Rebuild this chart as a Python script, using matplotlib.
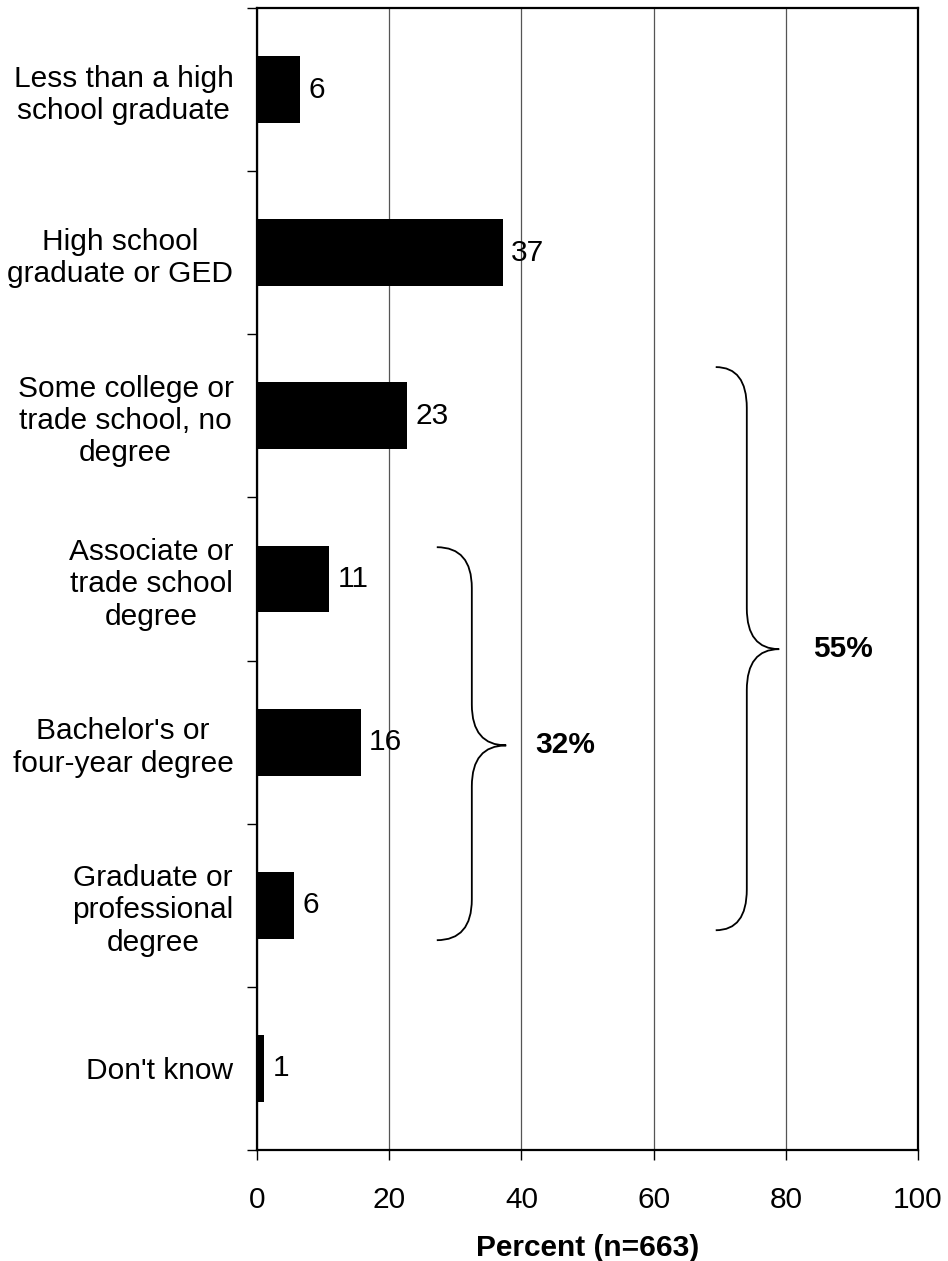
import matplotlib
matplotlib.use("Agg")
import matplotlib.pyplot as plt
from matplotlib.path import Path
from matplotlib.patches import PathPatch
import numpy as np

plt.rcParams['font.family'] = ['Liberation Sans', 'DejaVu Sans']

categories = [
    "Less than a high\nschool graduate",
    "High school\ngraduate or GED",
    "Some college or\ntrade school, no\ndegree",
    "Associate or\ntrade school\ndegree",
    "Bachelor's or\nfour-year degree",
    "Graduate or\nprofessional\ndegree",
    "Don't know",
]
values = [6.5, 37.2, 22.7, 10.9, 15.7, 5.6, 1.1]
value_labels = ["6", "37", "23", "11", "16", "6", "1"]

# brace groups: label, tip x, spine x, point x, top row, bottom row, middle row, label x
groups = [
    ("32%", 27.2, 32.5, 37.7, 2.805, 5.214, 4.02, 46.6),
    ("55%", 69.4, 74.1, 79.0, 1.701, 5.153, 3.43, 88.7),
]

FS = 21.5


def brace(ax, x0, xv, xm, ytop, ybot, ymid, r=0.25):
    verts = [
        (x0, ytop), (xv, ytop), (xv, ytop + r),
        (xv, ymid - r),
        (xv, ymid), (xm, ymid),
        (xv, ymid), (xv, ymid + r),
        (xv, ybot - r),
        (xv, ybot), (x0, ybot),
    ]
    codes = [Path.MOVETO, Path.CURVE3, Path.CURVE3,
             Path.LINETO,
             Path.CURVE3, Path.CURVE3,
             Path.CURVE3, Path.CURVE3,
             Path.LINETO,
             Path.CURVE3, Path.CURVE3]
    ax.add_patch(PathPatch(Path(verts, codes), fill=False, lw=1.3,
                           edgecolor='black', clip_on=False))


fig = plt.figure(figsize=(9.48, 12.61), dpi=100)
ax = fig.add_axes([257 / 948, 1 - 1150 / 1261, (918 - 257) / 948, (1150 - 8) / 1261])

y = np.arange(len(categories))
bars = ax.barh(y, values, height=0.41, color='black', zorder=3)
ax.bar_label(bars, labels=value_labels, padding=6, fontsize=FS)

ax.set_xlim(0, 100)
ax.set_ylim(len(categories) - 0.5, -0.5)

ax.set_xticks([0, 20, 40, 60, 80, 100])
ax.tick_params(axis='x', labelsize=FS, length=7, width=1, direction='out', pad=19)
ax.xaxis.grid(True, color='#555555', lw=0.9, zorder=0)

ax.set_yticks(y)
ax.set_yticklabels(categories, fontsize=FS, multialignment='center')
ax.tick_params(axis='y', which='major', length=0, pad=17)
ax.set_yticks(np.arange(len(categories) + 1) - 0.5, minor=True)
ax.tick_params(axis='y', which='minor', length=7, width=1, direction='out')

for s in ax.spines.values():
    s.set_linewidth(1.6)
    s.set_color('black')

ax.set_xlabel("Percent (n=663)", fontsize=FS, fontweight='bold', labelpad=14)

for label, x0, xv, xm, ytop, ybot, ymid, xt in groups:
    brace(ax, x0, xv, xm, ytop, ybot, ymid)
    ax.text(xt, ymid, label, fontsize=FS, fontweight='bold', ha='center', va='center')

fig.savefig("out.png", dpi=100)
